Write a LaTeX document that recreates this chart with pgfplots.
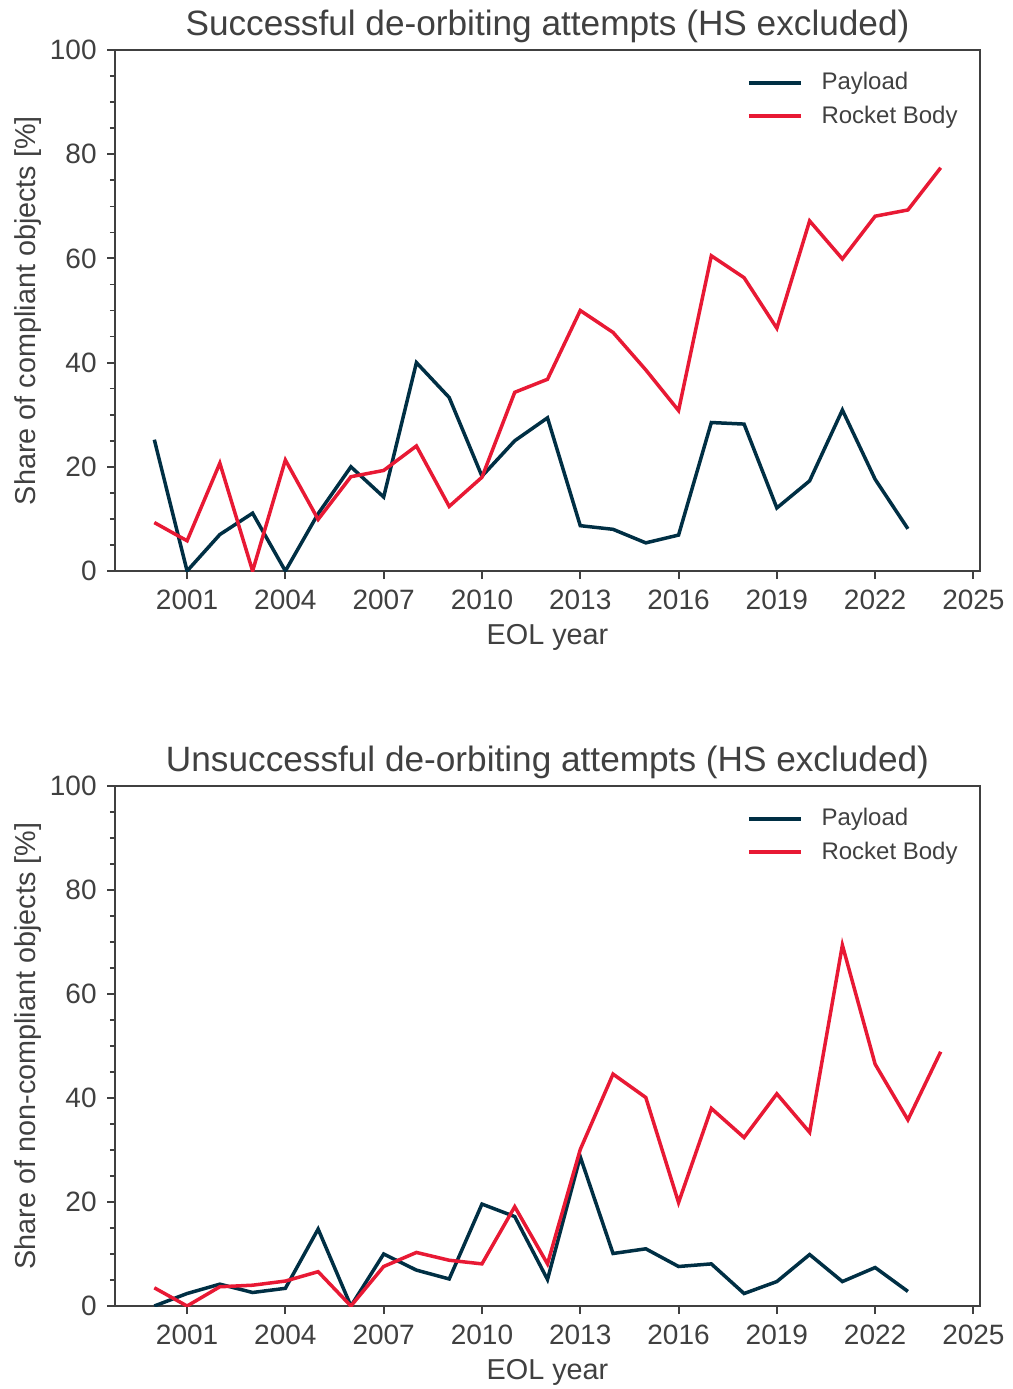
\documentclass[border=0pt]{standalone}
\usepackage{fontspec}
\setmainfont{Liberation Sans}
\usepackage{pgfplots}
\pgfplotsset{compat=1.18}

\definecolor{payload}{RGB}{0,47,68}
\definecolor{rocket}{RGB}{232,25,52}
\definecolor{txt}{RGB}{64,64,64}

\pgfplotsset{
  eol/.style={
    scale only axis,
    width=432.5pt, height=260.5pt,
    xmin=1998.8, xmax=2025.2, ymin=0, ymax=100,
    xtick={2001,2004,...,2025}, ytick={0,20,...,100},
    minor x tick num=2, minor y tick num=3,
    xtick pos=left, ytick pos=left,
    tick align=outside,
    major tick length=4pt, minor tick length=2.5pt,
    every tick/.style={txt, line width=1pt},
    every minor tick/.style={line width=0.8pt},
    axis line style={txt, line width=1.2pt},
    /pgf/number format/1000 sep={},
    /pgf/number format/assume math mode=true,
    tick label style={font=\fontsize{14}{16}\selectfont, text=txt, inner sep=0pt},
    xticklabel style={anchor=north, yshift=-5.5pt},
    yticklabel style={anchor=east, xshift=-5pt},
    label style={font=\fontsize{14.4}{17}\selectfont, text=txt},
    xlabel style={at={(axis description cs:0.5,-0.142)}, anchor=base},
    ylabel style={at={(axis description cs:-0.101,0.5)}, anchor=center},
    title style={font=\fontsize{17.6}{20}\selectfont, text=txt,
      at={(axis description cs:0.5,1)}, anchor=base, yshift=1.5pt},
    legend style={draw=none, fill=none, at={(axis description cs:0.9746,0.958)},
      anchor=north east, font=\fontsize{12}{14}\selectfont, text=txt,
      nodes={inner sep=0pt, text height=8.8pt, text depth=1.8pt},
      column sep=9.5pt, row sep=6pt, inner sep=0pt},
    legend cell align=left,
    legend image code/.code={\draw[#1, line width=1.75pt] (0pt,0pt) -- (26pt,0pt);},
    every axis plot/.append style={line width=1.75pt, line join=miter},
  }
}

\begin{document}
\begin{tikzpicture}
\begin{axis}[eol, at={(0pt,0pt)}, anchor=south west,
  title={Successful de-orbiting attempts (HS excluded)},
  xlabel={EOL year}, ylabel={Share of compliant objects [\%]}]
\addplot[payload] coordinates {
(2000,25.2) (2001,0) (2002,7.0) (2003,11.1) (2004,0) (2005,11.0) (2006,20.0)
(2007,14.2) (2008,40.0) (2009,33.3) (2010,18.2) (2011,25.0) (2012,29.4)
(2013,8.7) (2014,8.0) (2015,5.4) (2016,6.9) (2017,28.5) (2018,28.2)
(2019,12.1) (2020,17.3) (2021,30.9) (2022,17.6) (2023,8.1)
};
\addplot[rocket] coordinates {
(2000,9.3) (2001,5.8) (2002,20.7) (2003,0) (2004,21.3) (2005,9.9) (2006,18.1)
(2007,19.3) (2008,24.0) (2009,12.4) (2010,18.0) (2011,34.3) (2012,36.8)
(2013,50.0) (2014,45.8) (2015,38.6) (2016,30.8) (2017,60.5) (2018,56.3)
(2019,46.6) (2020,67.2) (2021,59.9) (2022,68.1) (2023,69.3) (2024,77.4)
};
\legend{Payload, Rocket Body}
\end{axis}

\begin{axis}[eol, at={(0pt,-367.5pt)}, anchor=south west, height=260pt,
  title={Unsuccessful de-orbiting attempts (HS excluded)},
  xlabel={EOL year}, ylabel={Share of non-compliant objects [\%]}]
\addplot[payload] coordinates {
(2000,0) (2001,2.4) (2002,4.2) (2003,2.6) (2004,3.4) (2005,14.8) (2006,0)
(2007,10.0) (2008,6.9) (2009,5.2) (2010,19.6) (2011,17.2) (2012,5.1)
(2013,28.7) (2014,10.1) (2015,11.0) (2016,7.6) (2017,8.1) (2018,2.4)
(2019,4.7) (2020,9.9) (2021,4.7) (2022,7.4) (2023,2.8)
};
\addplot[rocket] coordinates {
(2000,3.5) (2001,0) (2002,3.7) (2003,4.0) (2004,4.8) (2005,6.6) (2006,0)
(2007,7.6) (2008,10.3) (2009,8.8) (2010,8.1) (2011,19.1) (2012,8.1)
(2013,30.1) (2014,44.6) (2015,40.1) (2016,19.9) (2017,38.0) (2018,32.4)
(2019,40.8) (2020,33.4) (2021,69.4) (2022,46.5) (2023,35.8) (2024,48.9)
};
\legend{Payload, Rocket Body}
\end{axis}

\pgfresetboundingbox
\useasboundingbox (-57.5pt,-409pt) rectangle (449pt,285.5pt);
\end{tikzpicture}
\end{document}
